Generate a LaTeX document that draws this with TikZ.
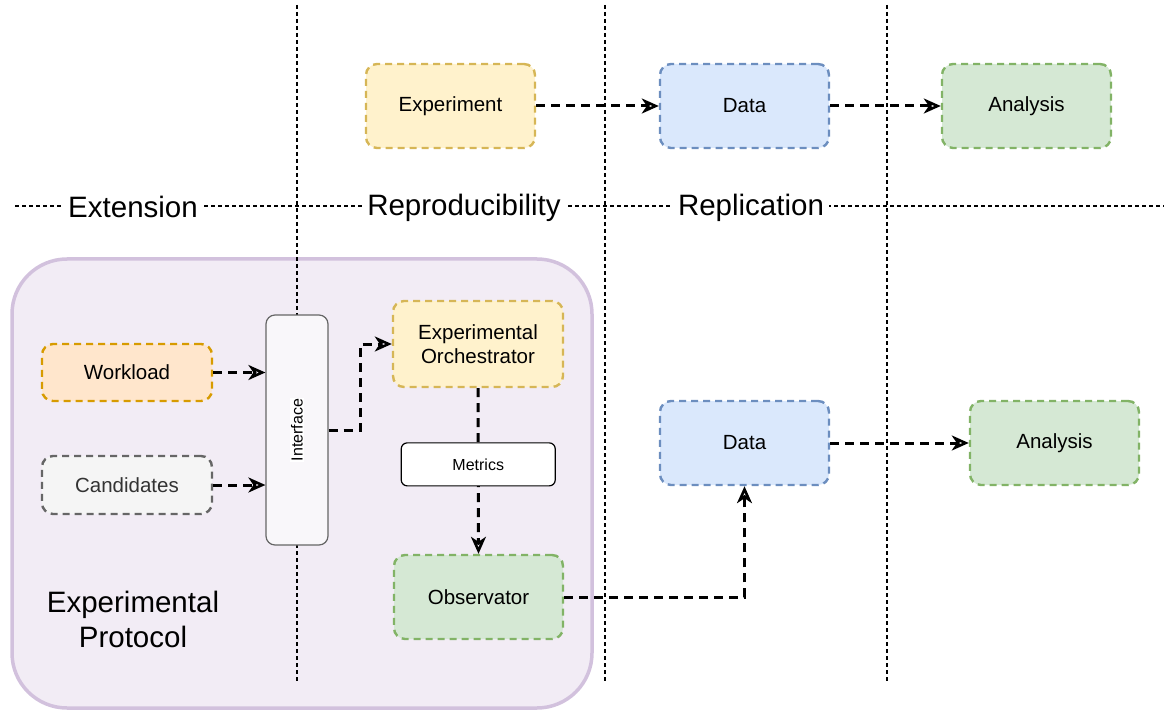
\documentclass[tikz,border=0pt]{standalone}
\usepackage{fontspec}
\setmainfont{Liberation Sans}
\usetikzlibrary{arrows.meta,calc}
\definecolor{ylwF}{HTML}{FFF2CC}\definecolor{ylwD}{HTML}{D6B656}
\definecolor{bluF}{HTML}{DAE8FC}\definecolor{bluD}{HTML}{6C8EBF}
\definecolor{grnF}{HTML}{D5E8D4}\definecolor{grnD}{HTML}{82B366}
\definecolor{orgF}{HTML}{FFE6CC}\definecolor{orgD}{HTML}{D79B00}
\definecolor{gryF}{HTML}{F5F5F5}\definecolor{gryD}{HTML}{666666}
\definecolor{gryT}{HTML}{333333}
\definecolor{purF}{HTML}{F2ECF5}\definecolor{purD}{HTML}{D2C1DD}
\definecolor{ifF}{HTML}{F9F7FA}
\tikzset{
  box/.style={rounded corners=11pt, line width=2.4pt, dash pattern=on 7pt off 5pt,
     minimum width=169pt, minimum height=84pt, inner sep=0pt, align=center,
     font=\fontsize{20.5}{24.5}\selectfont},
  yel/.style={box, fill=ylwF, draw=ylwD},
  blu/.style={box, fill=bluF, draw=bluD},
  grn/.style={box, fill=grnF, draw=grnD},
  org/.style={box, fill=orgF, draw=orgD, minimum width=170pt, minimum height=57pt},
  gry/.style={box, fill=gryF, draw=gryD, text=gryT, minimum width=170pt, minimum height=58pt},
  sect/.style={line width=1.1pt, dash pattern=on 4pt off 3pt},
  seclabel/.style={fill=white, inner sep=5pt, font=\fontsize{29.5}{34}\selectfont},
  conn/.style={line width=3pt, dash pattern=on 9pt off 6pt, -{Stealth[open, length=17pt, width=15pt, inset=5pt, line width=2.6pt]}},
  metricsbox/.style={draw=black, fill=white, solid, rounded corners=6pt, line width=1.2pt,
     minimum width=154pt, minimum height=43pt, inner sep=0pt, font=\fontsize{16}{19}\selectfont},
}
\begin{document}
\begin{tikzpicture}[x=1pt,y=-1pt]
\useasboundingbox (0,0) rectangle (1164,711);
% container
\draw[fill=purF, draw=purD, line width=3.5pt, rounded corners=55pt] (12,259) rectangle (592,708);
% section lines
\draw[sect] (15,206) -- (1164,206);
\draw[sect] (297,5) -- (297,683);
\draw[sect] (605,5) -- (605,683);
\draw[sect] (887,5) -- (887,683);
\node[seclabel] (lext) at (133,207) {Extension};
\node[seclabel] (lrep) at (464,208) {Reproducibility};
\node[seclabel] (lrpl) at (751,208) {Replication};
\node[font=\fontsize{29.5}{35}\selectfont, align=center] (proto) at (133,619) {Experimental\\Protocol};
% nodes
\node[yel] (exp) at (450.5,106) {Experiment};
\node[blu] (data1) at (744.5,106) {Data};
\node[grn] (ana1) at (1026.5,106) {Analysis};
\node[org] (work) at (127,372.5) {Workload};
\node[gry] (cand) at (127,485) {Candidates};
\node[draw=gryD, fill=ifF, line width=1.2pt, rounded corners=9pt, minimum width=62pt, minimum height=230pt, inner sep=0pt] (iface) at (297,430) {};
\node[fill=white, inner sep=1pt, rotate=90, font=\fontsize{16}{19}\selectfont] (ifacetxt) at (297,430) {Interface};
\node[yel, minimum width=170pt, minimum height=86pt] (orch) at (478,344) {Experimental\\Orchestrator};
\node[grn] (obs) at (478.5,597) {Observator};
\node[blu] (data2) at (744.5,443) {Data};
\node[grn] (ana2) at (1054.5,443) {Analysis};
% connectors
\draw[conn] (exp) -- (data1);
\draw[conn] (data1) -- (ana1);
\draw[conn] (work.east) -- (work.east -| iface.west);
\draw[conn] (cand.east) -- (cand.east -| iface.west);
\draw[conn] (iface.east) -- ++(32,0) |- (orch.west);
\draw[conn] (orch.south) -- node[metricsbox, pos=0.46] (metrics) {Metrics} (obs.north);
\draw[conn] (obs.east) -| (data2.south);
\draw[conn] (data2) -- (ana2);
\end{tikzpicture}
\end{document}
